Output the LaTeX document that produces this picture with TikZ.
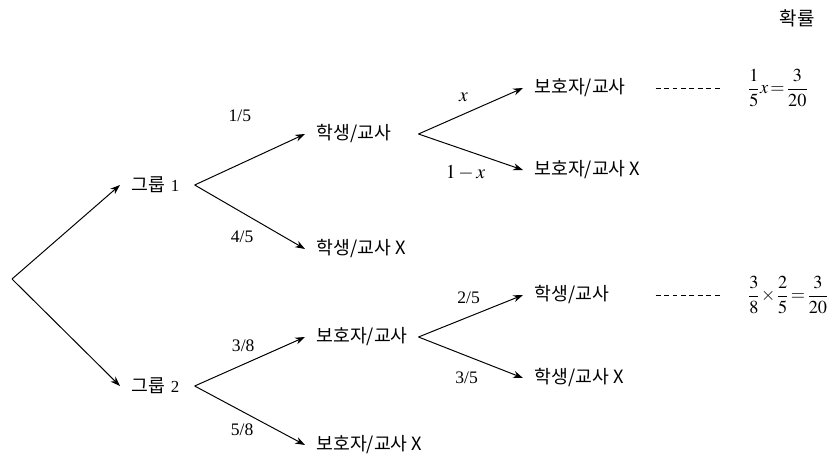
\documentclass[tikz,border=0pt]{standalone}
\usepackage{mathptmx}
\usepackage{fontspec}
\setmainfont{Liberation Serif}
\newfontfamily\kr{Noto Sans CJK KR}
\usetikzlibrary{arrows.meta}

\begin{document}
\begin{tikzpicture}[x=0.025cm, y=-0.025cm,
  every node/.style={font=\fontsize{12}{14}\selectfont},
  leaf/.style={anchor=west, inner xsep=8pt, font=\fontsize{13}{15}\selectfont\kr},
  fork/.style={leaf, text width=2.26cm},
  last/.style={leaf, text width=2.74cm},
  group/.style={anchor=west, inner xsep=8pt, text width=1.29cm},
  result/.style={anchor=west, inner xsep=18pt, font=\fontsize{13}{15}\selectfont},
  branch/.style={-{Stealth[length=7pt,width=5pt]}, line width=0.7pt},
  guide/.style={dash pattern=on 3.5pt off 2.5pt, line width=0.5pt},
  lbl/.style={font=\fontsize{12.5}{14}\selectfont}]
  \useasboundingbox (0,0) rectangle (833,467);
  \coordinate (root) at (12,279);
  \node[group] (g1) at (120,185) {{\kr\fontsize{13}{15}\selectfont 그룹} 1};
  \node[group] (g2) at (120,386) {{\kr\fontsize{13}{15}\selectfont 그룹} 2};
  \node[fork] (s1) at (305,134) {학생/교사};
  \node[leaf] (s1x) at (305,249) {학생/교사 X};
  \node[fork] (p2) at (305,337) {보호자/교사};
  \node[leaf] (p2x) at (305,445) {보호자/교사 X};
  \node[last] (p1) at (523,88) {보호자/교사};
  \node[leaf] (p1x) at (523,170) {보호자/교사 X};
  \node[last] (s2) at (523,295) {학생/교사};
  \node[leaf] (s2x) at (523,378) {학생/교사 X};
  \node[result] (f1) at (722,88)
    {$\displaystyle\frac{1}{5}x\mkern2mu{=}\mkern2mu\frac{3}{20}$};
  \node[result] (f2) at (722,295)
    {$\displaystyle\frac{3}{8}\mkern1mu{\times}\mkern1mu\frac{2}{5}\mkern2mu{=}\mkern2mu\frac{3}{20}$};
  \node[font=\fontsize{13.5}{15}\selectfont\kr] (prob) at (797,18) {확률};

  \draw[branch] (root) -- (g1.west);
  \draw[branch] (root) -- (g2.west);
  \draw[branch] (g1.east) -- node[lbl, pos=.41, yshift=34pt] {1/5} (s1.west);
  \draw[branch] (g1.east) -- node[lbl, pos=.43, yshift=-17pt] {4/5} (s1x.west);
  \draw[branch] (g2.east) -- node[lbl, pos=.44, yshift=13pt] {3/8} (p2.west);
  \draw[branch] (g2.east) -- node[lbl, pos=.43, yshift=-13pt] {5/8} (p2x.west);
  \draw[branch] (s1.east) -- node[lbl, pos=.43, yshift=12pt, font=\fontsize{14}{16}\selectfont] {$x$} (p1.west);
  \draw[branch] (s1.east) -- node[lbl, pos=.45, yshift=-16pt, font=\fontsize{14}{16}\selectfont] {$1-x$} (p1x.west);
  \draw[branch] (p2.east) -- node[lbl, pos=.48, yshift=13.5pt] {2/5} (s2.west);
  \draw[branch] (p2.east) -- node[lbl, pos=.46, yshift=-15.5pt] {3/5} (s2x.west);
  \draw[guide] (p1.east) -- (f1.west);
  \draw[guide] (s2.east) -- (f2.west);
\end{tikzpicture}
\end{document}
